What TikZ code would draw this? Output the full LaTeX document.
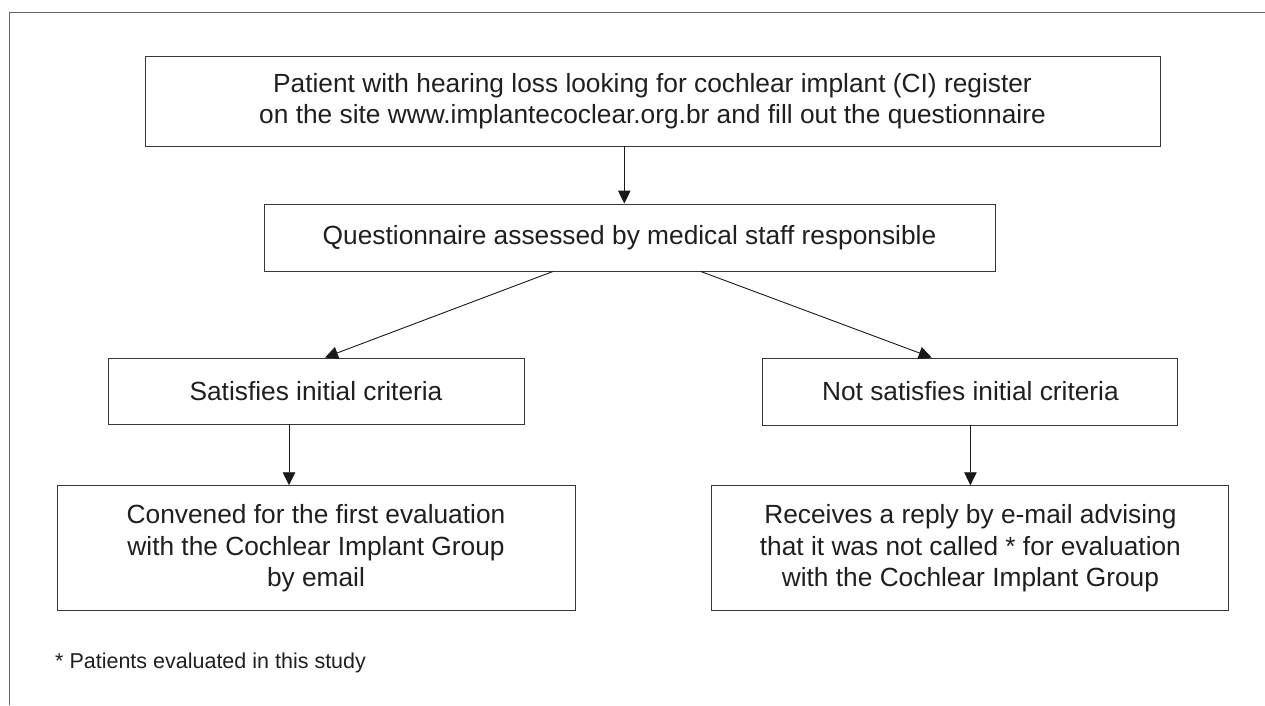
\documentclass[tikz,border=0pt]{standalone}
\usepackage{fontspec}
\setmainfont{Liberation Sans}
\usetikzlibrary{arrows.meta}
\begin{document}
\begin{tikzpicture}[x=1pt,y=-1pt,
  box/.style={draw=black!78, line width=0.9pt, inner sep=0pt, align=center,
    text=black!88, font=\fontsize{26.3}{31.5}\selectfont},
  arr/.style={draw=black!90, line width=0.9pt, -{Triangle[length=13pt,width=12.5pt]}},
  frame/.style={draw=black!60, line width=1pt}]
\useasboundingbox (0,0) rectangle (1265,705);
\draw[frame] (9.5,705) -- (9.5,12) -- (1265,12);

\node[box, minimum width=1015pt, minimum height=90pt] (top) at (652.5,101)
  {Patient with hearing loss looking for cochlear implant (CI) register\\
   on the site www.implantecoclear.org.br and fill out the questionnaire};
\node[box, minimum width=731pt, minimum height=67pt] (q) at (629.5,237.5)
  {Questionnaire assessed by medical staff responsible};
\node[box, minimum width=416pt, minimum height=66pt] (sat) at (316,391)
  {Satisfies initial criteria};
\node[box, minimum width=415pt, minimum height=67pt] (nsat) at (970.4,391.5)
  {Not satisfies initial criteria};
\node[box, minimum width=518pt, minimum height=125pt] (conv) at (316,548.2)
  {Convened for the first evaluation\\ with the Cochlear Implant Group\\ by email};
\node[box, minimum width=517pt, minimum height=125pt] (rec) at (970.4,548.2)
  {Receives a reply by e-mail advising\\ that it was not called * for evaluation\\ with the Cochlear Implant Group};
\node[anchor=base west, inner sep=0pt, text=black!88, font=\fontsize{21.5}{26}\selectfont] (note) at (55,668)
  {* Patients evaluated in this study};

\draw[arr] ([xshift=-28.2pt]top.south) -- ([xshift=-5.2pt]q.north);
\draw[arr] ([xshift=-76.5pt]q.south) -- ([xshift=9pt]sat.north);
\draw[arr] ([xshift=71.2pt]q.south) -- ([xshift=-38.7pt]nsat.north);
\draw[arr] ([xshift=-27pt]sat.south) -- ([xshift=-27pt]conv.north);
\draw[arr] (nsat.south) -- (rec.north);
\end{tikzpicture}
\end{document}
